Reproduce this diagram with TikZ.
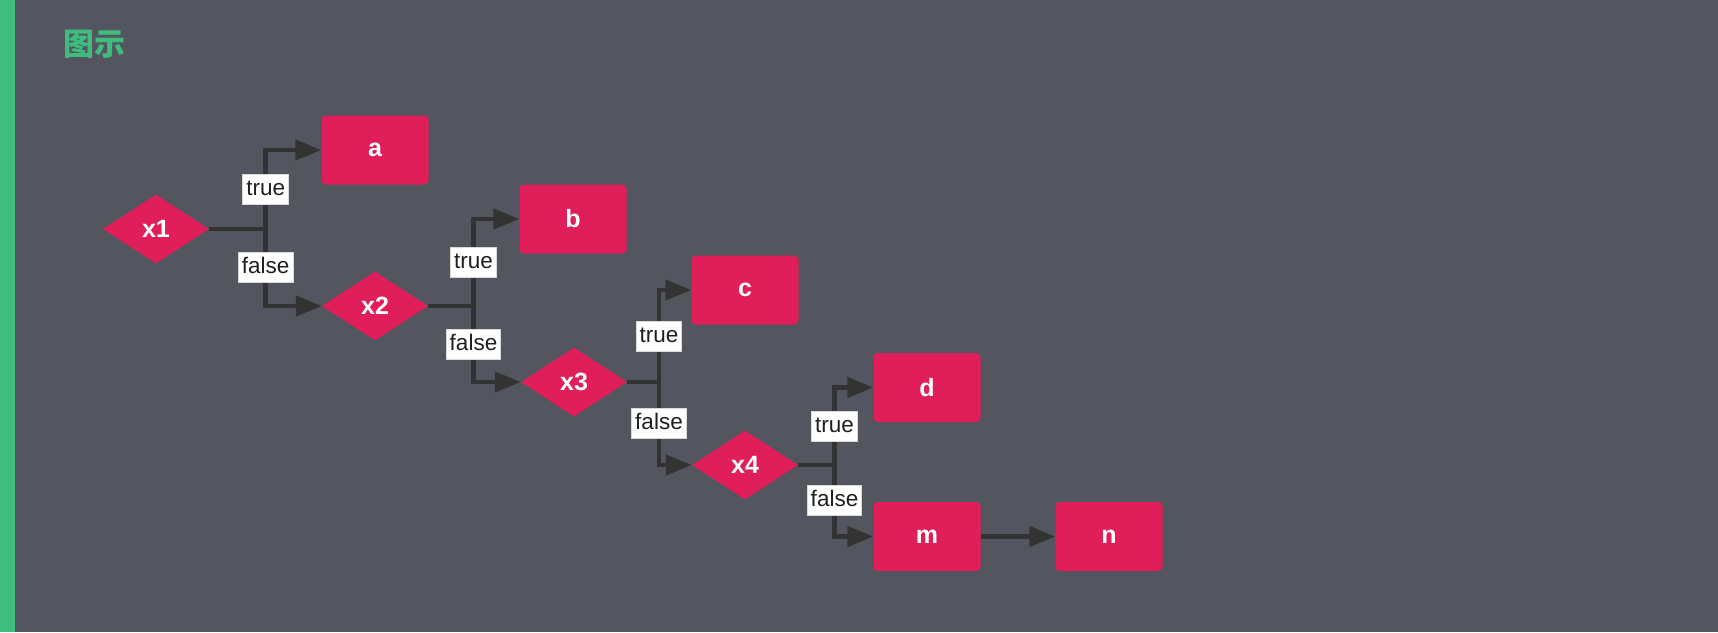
\documentclass[tikz,border=0pt]{standalone}
\usepackage{fontspec}
\setmainfont{Liberation Sans}
\newfontfamily\cjkfont{Noto Sans CJK SC}
\usetikzlibrary{shapes.geometric,arrows.meta}
\definecolor{bgc}{HTML}{53565F}
\definecolor{pinkc}{HTML}{E01E5A}
\definecolor{greenc}{HTML}{3FBD7F}
\definecolor{edgec}{HTML}{333333}
\tikzset{
  decision/.style={diamond, fill=pinkc, draw=none, inner sep=0pt, minimum width=106pt, minimum height=69pt, text=white, font=\fontsize{25}{28}\selectfont\bfseries},
  leaf/.style={rectangle, rounded corners=4pt, fill=pinkc, draw=none, minimum width=107pt, minimum height=69pt, text=white, font=\fontsize{25}{28}\selectfont\bfseries},
  edge/.style={draw=edgec, line width=4.5pt, -{Triangle[length=26pt,width=20pt]}},
  lbl/.style={fill=white, draw=black!15, line width=0.8pt, text=black!88, font=\fontsize{22.5}{24}\selectfont, inner xsep=3.5pt, inner ysep=4pt, text height=17pt, text depth=5pt}
}
\begin{document}
\begin{tikzpicture}[x=1pt,y=-1pt]
\fill[bgc] (0,0) rectangle (1718,632);
\useasboundingbox (0,0) rectangle (1718,632);
\fill[greenc] (0,0) rectangle (15,632);
\node[text=greenc, font=\fontsize{31}{34}\cjkfont\bfseries, anchor=west, inner sep=0pt] (title) at (63,44) {图示};

\node[decision] (x1) at (156,229) {x1};
\node[leaf] (a) at (375,150) {a};
\node[decision] (x2) at (375,306) {x2};
\node[leaf] (b) at (573,219) {b};
\node[decision] (x3) at (574,382) {x3};
\node[leaf] (c) at (745,290) {c};
\node[decision] (x4) at (745,465) {x4};
\node[leaf] (d) at (927,387.5) {d};
\node[leaf] (m) at (927,536.5) {m};
\node[leaf] (n) at (1109,536.5) {n};

\coordinate (j1) at (265.7,229);
\coordinate (j2) at (473.5,306);
\coordinate (j3) at (659,382);
\coordinate (j4) at (834.5,465);

\draw[edge] (x1.east) -- (j1) |- node[lbl,pos=0.25]{true} (a.west);
\draw[edge] (x1.east) -- (j1) |- node[lbl,pos=0.25]{false} (x2.west);
\draw[edge] (x2.east) -- (j2) |- node[lbl,pos=0.25]{true} (b.west);
\draw[edge] (x2.east) -- (j2) |- node[lbl,pos=0.25]{false} (x3.west);
\draw[edge] (x3.east) -- (j3) |- node[lbl,pos=0.25]{true} (c.west);
\draw[edge] (x3.east) -- (j3) |- node[lbl,pos=0.25]{false} (x4.west);
\draw[edge] (x4.east) -- (j4) |- node[lbl,pos=0.25]{true} (d.west);
\draw[edge] (x4.east) -- (j4) |- node[lbl,pos=0.25]{false} (m.west);
\draw[edge] (m.east) -- (n.west);
\end{tikzpicture}
\end{document}
